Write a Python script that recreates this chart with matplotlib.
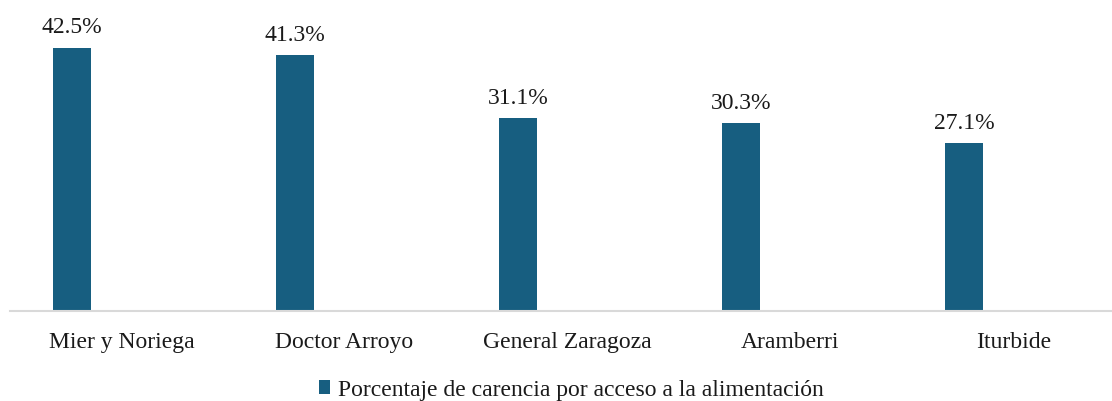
import numpy as np
import matplotlib
matplotlib.use('Agg')
import matplotlib.pyplot as plt

plt.rcParams['font.family'] = ['Liberation Serif', 'DejaVu Serif']

municipios = ['Mier y Noriega', 'Doctor Arroyo', 'General Zaragoza', 'Aramberri', 'Iturbide']
carencia = [42.5, 41.3, 31.1, 30.3, 27.1]
serie = 'Porcentaje de carencia por acceso a la alimentación'
color = '#175E80'

W, H = 1112, 402
fig = plt.figure(figsize=(W / 100, H / 100), dpi=100)
# axes spans slightly past the right edge, as in the original crop
ax = fig.add_axes([10 / W, (H - 312) / H, 1115 / W, 310 / H])

x = np.arange(len(municipios))
bars = ax.bar(x - 0.222, carencia, width=0.17, color=color, label=serie)
for xi, v in zip(x, carencia):
    ax.annotate(f'{v:.1f}%', (xi - 0.222, v), xytext=(0, 7.5), textcoords='offset points',
                ha='center', va='bottom', fontsize=17, color='#1a1a1a')

ax.set_xlim(-0.5, len(municipios) - 0.5)
ax.set_ylim(0, 50)
ax.set_xticks(x)
ax.set_xticklabels(municipios, fontsize=17, color='#1a1a1a')
ax.tick_params(axis='x', length=0, pad=14.5)
ax.set_yticks([])
for s in ['top', 'right', 'left']:
    ax.spines[s].set_visible(False)
ax.spines['bottom'].set_color('#d9d9d9')
ax.spines['bottom'].set_linewidth(1.5)

fig.legend(handles=[bars], labels=[serie], loc='center', bbox_to_anchor=(571 / W, (H - 391) / H),
           frameon=False, fontsize=17, handlelength=0.5, handleheight=0.5, handletextpad=0.3,
           labelcolor='#1a1a1a')

fig.savefig('out.png', dpi=100)
